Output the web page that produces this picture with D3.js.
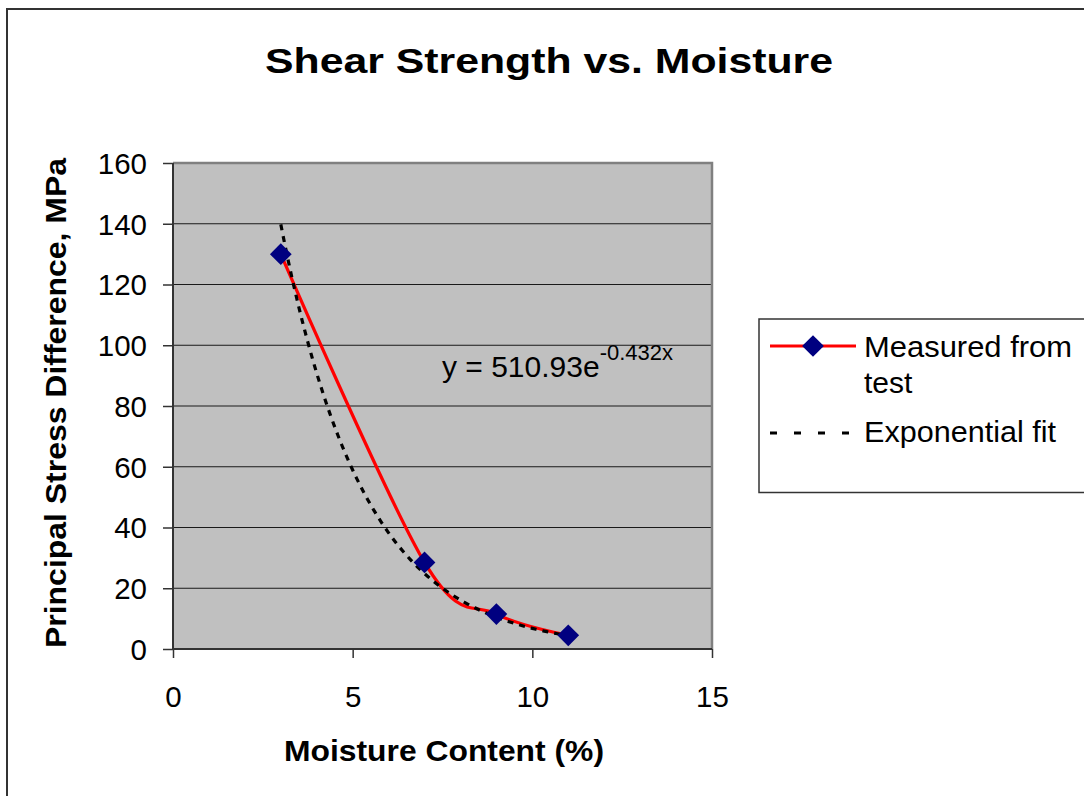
<!DOCTYPE html>
<html>
<head>
<meta charset="utf-8">
<script src="https://cdnjs.cloudflare.com/ajax/libs/d3/7.8.5/d3.min.js"></script>
<style>
  html, body { margin: 0; padding: 0; background: #fff; }
  svg { display: block; }
  text { font-family: "Liberation Sans", Arial, sans-serif; fill: #000; }
</style>
</head>
<body>
<svg id="chart" width="1084" height="796"></svg>
<script>
// Measured shear strength at each moisture content
const moisture = [3, 7, 9, 11];
const stressDiff = [130, 28.5, 11.5, 4.5];

// Exponential trendline coefficients, y = a * e^(b x)
const fitA = 510.93;
const fitB = -0.432;
const fitRange = [3, 11];

// Axis ticks
const xTicks = [0, 5, 10, 15];
const yTicks = [0, 20, 40, 60, 80, 100, 120, 140, 160];

const svg = d3.select("#chart");

// Outer chart frame
svg.append("rect")
  .attr("x", 7).attr("y", 9).attr("width", 1100).attr("height", 800)
  .attr("fill", "#fff").attr("stroke", "#333").attr("stroke-width", 2);

const plot = { left: 173, right: 712, top: 163, bottom: 649 };

const x = d3.scaleLinear().domain([0, 15]).range([plot.left, plot.right]);
const y = d3.scaleLinear().domain([0, 160]).range([plot.bottom, plot.top]);

// Plot area background
svg.append("rect")
  .attr("x", plot.left).attr("y", plot.top)
  .attr("width", plot.right - plot.left).attr("height", plot.bottom - plot.top)
  .attr("fill", "#c0c0c0");

// Horizontal gridlines
svg.append("g")
  .selectAll("line")
  .data(yTicks.filter(t => t > 0 && t < 160))
  .join("line")
  .attr("x1", plot.left).attr("x2", plot.right)
  .attr("y1", d => y(d)).attr("y2", d => y(d))
  .attr("stroke", "#1a1a1a").attr("stroke-width", 1.2);

// Gray border on top and right of plot area
svg.append("path")
  .attr("d", `M${plot.left},${plot.top}H${plot.right}V${plot.bottom}`)
  .attr("fill", "none").attr("stroke", "#808080").attr("stroke-width", 2.5);

// Axes
const xAxis = d3.axisBottom(x).tickValues(xTicks).tickSize(9).tickPadding(10);
const yAxis = d3.axisLeft(y).tickValues(yTicks).tickSize(10).tickPadding(15);

const gx = svg.append("g").attr("transform", `translate(0,${plot.bottom})`).call(xAxis);
const gy = svg.append("g").attr("transform", `translate(${plot.left},0)`).call(yAxis);

[gx, gy].forEach(g => {
  g.select(".domain").attr("stroke", "#333").attr("stroke-width", 2);
  g.selectAll(".tick line").attr("stroke", "#333").attr("stroke-width", 1.5);
  g.selectAll(".tick text")
    .attr("font-size", 29.5)
    .attr("font-family", "'Liberation Sans', Arial, sans-serif")
    .attr("fill", "#000");
});
gx.select(".domain").attr("d", `M${plot.left},0H${plot.right}`);
gy.select(".domain").attr("d", `M0,${plot.bottom}V${plot.top}`);
gx.selectAll(".tick text").attr("dy", null).attr("y", 58);
gy.selectAll(".tick text").attr("dy", "0.35em").attr("x", -26);

// Exponential fit curve
const fitPts = d3.range(fitRange[0], fitRange[1] + 1e-9, 0.1)
  .map(v => [v, fitA * Math.exp(fitB * v)]);
const line = d3.line().x(d => x(d[0])).y(d => y(d[1]));

// Measured series: smoothed red line with navy diamonds
const measured = moisture.map((m, i) => [m, stressDiff[i]]);
svg.append("path")
  .datum(measured)
  .attr("d", d3.line().x(d => x(d[0])).y(d => y(d[1])).curve(d3.curveCardinal.tension(0)))
  .attr("fill", "none").attr("stroke", "#ff0000").attr("stroke-width", 3.2);

svg.append("path")
  .datum(fitPts)
  .attr("d", line)
  .attr("fill", "none").attr("stroke", "#000").attr("stroke-width", 3.2)
  .attr("stroke-dasharray", "6,6");

// Diamond marker: a square turned 45 degrees
const diamond = d3.symbol().type(d3.symbolSquare).size(236);
svg.append("g")
  .selectAll("path")
  .data(measured)
  .join("path")
  .attr("d", diamond)
  .attr("transform", d => `translate(${x(d[0])},${y(d[1])}) rotate(45)`)
  .attr("fill", "#000080");

// Trendline equation
const eq = svg.append("text").attr("x", 442).attr("y", 377).attr("font-size", 30);
eq.append("tspan").text("y = 510.93e");
eq.append("tspan").attr("font-size", 22).attr("dy", -17).text("-0.432x");

// Titles
svg.append("text")
  .attr("x", 265).attr("y", 73)
  .attr("font-size", 35.5).attr("font-weight", "bold")
  .attr("textLength", 568).attr("lengthAdjust", "spacingAndGlyphs")
  .text("Shear Strength vs. Moisture");

svg.append("text")
  .attr("x", 284).attr("y", 761)
  .attr("font-size", 29.5).attr("font-weight", "bold")
  .attr("textLength", 320).attr("lengthAdjust", "spacingAndGlyphs")
  .text("Moisture Content (%)");

svg.append("text")
  .attr("transform", "translate(66,648) rotate(-90)")
  .attr("font-size", 30).attr("font-weight", "bold")
  .attr("textLength", 490).attr("lengthAdjust", "spacingAndGlyphs")
  .text("Principal Stress Difference, MPa");

// Legend
const legend = svg.append("g");
legend.append("rect")
  .attr("x", 759).attr("y", 319).attr("width", 400).attr("height", 173.5)
  .attr("fill", "#fff").attr("stroke", "#333").attr("stroke-width", 1.5);

legend.append("line")
  .attr("x1", 770).attr("x2", 856).attr("y1", 346).attr("y2", 346)
  .attr("stroke", "#ff0000").attr("stroke-width", 3.2);
legend.append("path")
  .attr("d", diamond)
  .attr("transform", "translate(813,346) rotate(45)")
  .attr("fill", "#000080");
legend.append("text").attr("x", 864).attr("y", 357).attr("font-size", 30)
  .attr("textLength", 208).attr("lengthAdjust", "spacingAndGlyphs")
  .text("Measured from");
legend.append("text").attr("x", 864).attr("y", 393).attr("font-size", 30).text("test");

legend.append("line")
  .attr("x1", 770).attr("x2", 856).attr("y1", 433).attr("y2", 433)
  .attr("stroke", "#000").attr("stroke-width", 3.2)
  .attr("stroke-dasharray", "7,17");
legend.append("text").attr("x", 864).attr("y", 442).attr("font-size", 30)
  .attr("textLength", 192).attr("lengthAdjust", "spacingAndGlyphs")
  .text("Exponential fit");
</script>
</body>
</html>
